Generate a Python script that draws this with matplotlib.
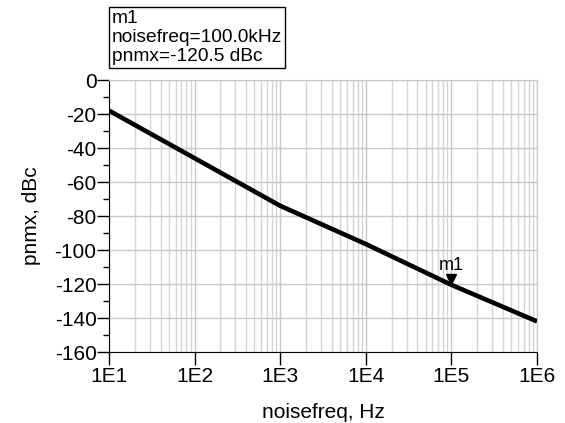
import numpy as np
import matplotlib.pyplot as plt
from matplotlib.ticker import LogLocator, FixedLocator, NullFormatter

plt.rcParams['font.family'] = ['Liberation Sans', 'DejaVu Sans']
plt.rcParams['axes.unicode_minus'] = False

# phase noise trace
noisefreq = [1e1, 1e2, 1e3, 1e4, 1e5, 1e6]
pnmx = [-18.0, -46.0, -74.0, -96.5, -120.5, -142.0]
marker_freq = 1e5
marker_val = -120.5
xtick_labels = ['1E1', '1E2', '1E3', '1E4', '1E5', '1E6']

def main():
	fig = plt.figure(figsize=(5.65, 4.23), dpi=100)
	ax = fig.add_axes([109/565, 1 - 352/423, (537-109)/565, (352-80)/423])

	ax.plot(noisefreq, pnmx, color='black', lw=3.3, solid_capstyle='butt', zorder=3)
	ax.plot([marker_freq], [marker_val + 3.5], marker='v', color='black', ms=7, zorder=4)
	ax.text(marker_freq, marker_val + 6.5, 'm1', ha='center', va='bottom', fontsize=13)

	ax.set_xscale('log')
	ax.set_xlim(1e1, 1e6)
	ax.set_ylim(-160, 0)
	ax.set_xticks(noisefreq)
	ax.set_xticklabels(xtick_labels)
	ax.xaxis.set_minor_locator(LogLocator(base=10, subs=np.arange(2, 10)))
	ax.xaxis.set_minor_formatter(NullFormatter())
	ax.set_yticks(np.arange(-160, 1, 20))
	ax.yaxis.set_minor_locator(FixedLocator(np.arange(-150, 0, 20)))

	ax.grid(True, which='major', color='#c8c8c8', lw=1)
	ax.grid(True, which='minor', axis='x', color='#d4d4d4', lw=1)
	ax.tick_params(which='major', direction='out', length=9, width=1, labelsize=15, colors='black')
	ax.tick_params(axis='x', which='minor', length=0)
	ax.tick_params(axis='y', which='minor', direction='out', length=4.5, width=1)
	ax.tick_params(axis='x', pad=2)
	ax.tick_params(axis='y', pad=0)

	ax.spines['top'].set_color('#c8c8c8')
	ax.spines['right'].set_color('#c8c8c8')

	ax.set_xlabel('noisefreq, Hz', fontsize=15, labelpad=12)
	ax.set_ylabel('pnmx, dBc', fontsize=15, labelpad=10)

	fig.text(112/565, 1 - 10/423, 'm1\nnoisefreq=100.0kHz\npnmx=-120.5 dBc', ha='left', va='top', fontsize=13.8, linespacing=1.15,
		bbox=dict(boxstyle='square,pad=0.14', fc='white', ec='black', lw=1))

	plt.savefig('out.png')

if __name__ == "__main__":
	main()
